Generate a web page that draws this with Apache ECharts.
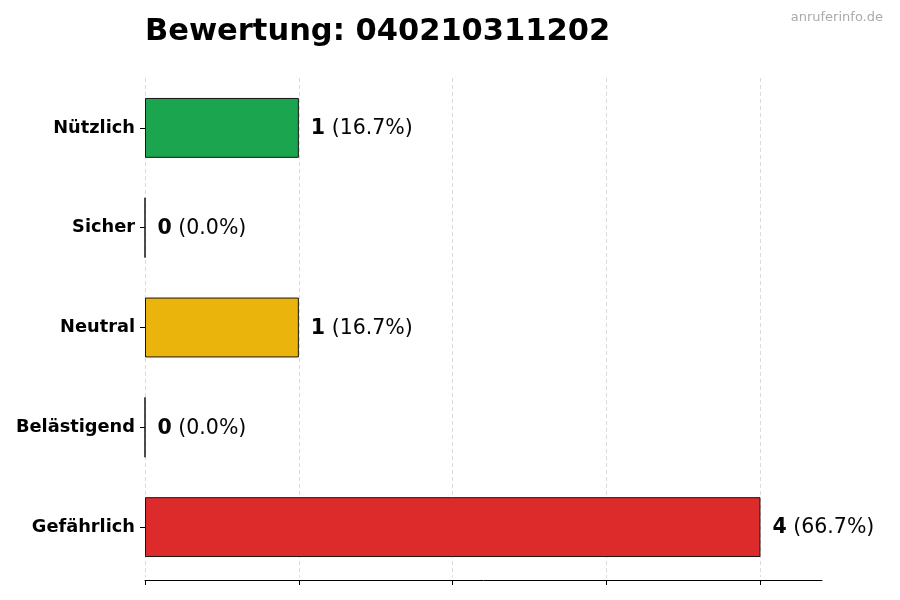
<!DOCTYPE html>
<html>
<head>
<meta charset="utf-8">
<script src="https://cdn.jsdelivr.net/npm/echarts@6/dist/echarts.min.js"></script>
<style>html,body{margin:0;padding:0;background:#fff}#c{width:900px;height:600px}</style>
</head>
<body>
<div id="c"></div>
<script>
const categories = ['Nützlich', 'Sicher', 'Neutral', 'Belästigend', 'Gefährlich'];
const counts = [1, 0, 1, 0, 4];
const percents = [16.7, 0.0, 16.7, 0.0, 66.7];
const barColors = ['#16a34a', '#9ca3af', '#eab308', '#f97316', '#dc2626'];
const xTicks = [0, 1, 2, 3, 4];

const chart = echarts.init(document.getElementById('c'), null, {renderer: 'canvas'});
const font = 'DejaVu Sans';
chart.setOption({
  animation: false,
  backgroundColor: '#fff',
  title: [
    {text: 'Bewertung: 040210311202', left: 140, top: 12,
     textStyle: {fontFamily: font, fontSize: 30.5, fontWeight: 'bold', color: '#000'}},
    {text: 'anruferinfo.de', right: 12, top: 6,
     textStyle: {fontFamily: font, fontSize: 13, fontWeight: 'normal', color: '#aaaaaa'}}
  ],
  grid: {left: 145, right: 78, top: 78, bottom: 23, containLabel: false},
  xAxis: {
    type: 'value', min: 0, max: 4.4, interval: 1, offset: 3,
    axisLine: {show: true, lineStyle: {color: '#000', width: 1}},
    axisTick: {show: true, length: 5, lineStyle: {color: '#000'}, customValues: xTicks},
    axisLabel: {show: false},
    splitLine: {show: true, lineStyle: {color: '#d0d0d0', type: [4, 3], width: 0.8}, customValues: xTicks}
  },
  yAxis: {
    type: 'category', data: categories, inverse: true,
    axisLine: {show: false},
    axisTick: {show: true, alignWithLabel: true, length: 5, lineStyle: {color: '#000'}},
    axisLabel: {fontFamily: font, fontSize: 17.8, fontWeight: 'bold', color: '#000', margin: 10, padding: [2, 0, 0, 0]}
  },
  series: [{
    type: 'bar',
    barWidth: '60%',
    data: counts.map((v, i) => ({
      value: v,
      itemStyle: {color: barColors[i], opacity: 0.98, borderColor: '#111', borderWidth: 1}
    })),
    label: {
      show: true, position: 'right', distance: 12,
      formatter: p => '{b|' + counts[p.dataIndex] + '}{n| (' + percents[p.dataIndex].toFixed(1) + '%)}',
      rich: {
        b: {fontFamily: font, fontSize: 20.5, fontWeight: 'bold', color: '#000', padding: [2, 0, 0, 0]},
        n: {fontFamily: font, fontSize: 20.5, color: '#000', padding: [2, 0, 0, 0]}
      }
    }
  }]
});
</script>
</body>
</html>
